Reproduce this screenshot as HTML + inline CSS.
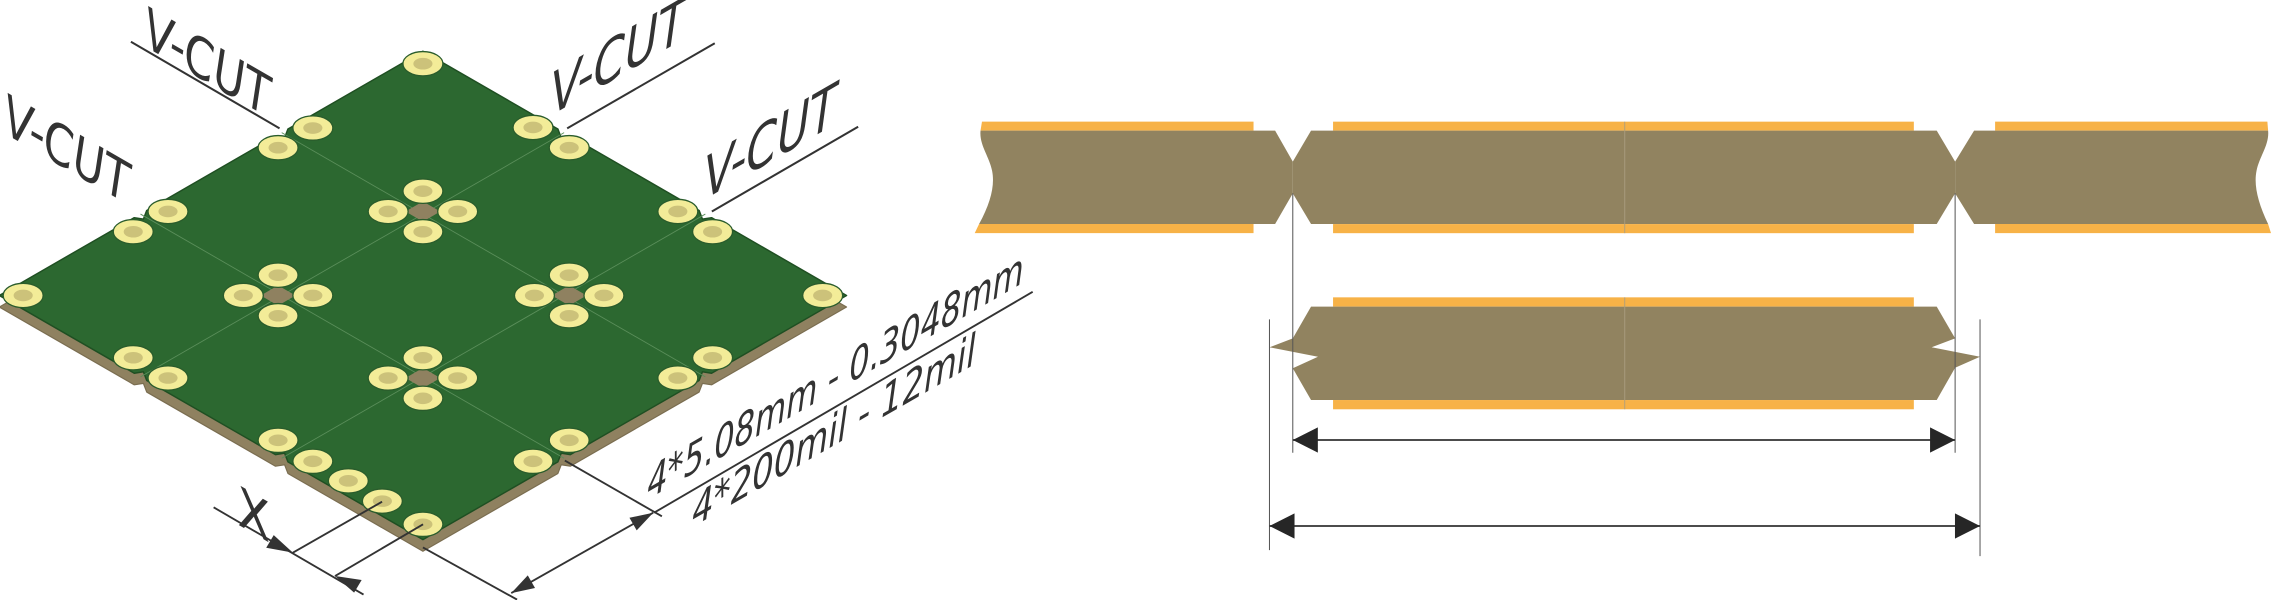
<!DOCTYPE html>
<html><head><meta charset="utf-8"><style>
html,body{margin:0;padding:0;background:#fff;}
svg{display:block;}
text{font-family:"DejaVu Sans","Liberation Sans",sans-serif;fill:#333;}
</style></head><body>
<svg width="2271" height="600" viewBox="0 0 1568 414.27" preserveAspectRatio="none" xmlns="http://www.w3.org/2000/svg">
<polygon transform="translate(0,8)" fill="#8f8160" stroke="#7a6d50" stroke-width="0.8" stroke-linejoin="round" points="292,35.4 385.2,89.1 387.5,95.1 393.8,94.1 482.7,145.3 485,151.3 491.3,150.3 584.5,204 491.3,257.7 485,256.7 482.7,262.7 393.8,313.9 387.5,312.9 385.2,318.9 292,372.6 198.8,318.9 196.5,312.9 190.2,313.9 101.3,262.7 99,256.7 92.7,257.7 -0.5,204 92.7,150.3 99,151.3 101.3,145.3 190.2,94.1 196.5,95.1 198.8,89.1"/>
<polygon fill="#2c6830" stroke="#1f4f22" stroke-width="1" stroke-linejoin="round" points="292,35.4 385.2,89.1 387.5,95.1 393.8,94.1 482.7,145.3 485,151.3 491.3,150.3 584.5,204 491.3,257.7 485,256.7 482.7,262.7 393.8,313.9 387.5,312.9 385.2,318.9 292,372.6 198.8,318.9 196.5,312.9 190.2,313.9 101.3,262.7 99,256.7 92.7,257.7 -0.5,204 92.7,150.3 99,151.3 101.3,145.3 190.2,94.1 196.5,95.1 198.8,89.1"/>
<g stroke="#5a8e5a" stroke-width="0.6">
<line x1="194.5" y1="91.6" x2="487" y2="260.2"/>
<line x1="97" y1="147.8" x2="389.5" y2="316.4"/>
<line x1="97" y1="260.2" x2="389.5" y2="91.6"/>
<line x1="194.5" y1="316.4" x2="487" y2="147.8"/>
</g>
<g fill="#8f8160">
<polygon points="280,146 292,139 304,146 292,153"/>
<polygon points="180,204 192,197 204,204 192,211"/>
<polygon points="381,204 393,197 405,204 393,211"/>
<polygon points="280,261 292,254 304,261 292,268"/>
</g>
<defs>
<g id="pad"><ellipse rx="13.8" ry="8.4" fill="#f3ec98" stroke="#2a5c2c" stroke-width="0.9"/><ellipse rx="6.6" ry="4" fill="#ccc27a"/></g>
</defs>
<g>
<use href="#pad" x="292" y="44"/>
<use href="#pad" x="216" y="88.4"/><use href="#pad" x="192" y="102"/>
<use href="#pad" x="368" y="88"/><use href="#pad" x="393" y="102"/>
<use href="#pad" x="116" y="146"/><use href="#pad" x="92" y="160"/>
<use href="#pad" x="468" y="146"/><use href="#pad" x="492" y="160"/>
<use href="#pad" x="16" y="204"/><use href="#pad" x="568" y="204"/>
<use href="#pad" x="292" y="132"/><use href="#pad" x="268" y="146"/><use href="#pad" x="316" y="146"/><use href="#pad" x="292" y="160"/>
<use href="#pad" x="192" y="190"/><use href="#pad" x="168" y="204"/><use href="#pad" x="216" y="204"/><use href="#pad" x="192" y="218"/>
<use href="#pad" x="393" y="190"/><use href="#pad" x="369" y="204"/><use href="#pad" x="417" y="204"/><use href="#pad" x="393" y="218"/>
<use href="#pad" x="292" y="247"/><use href="#pad" x="268" y="261"/><use href="#pad" x="316" y="261"/><use href="#pad" x="292" y="275"/>
<use href="#pad" x="92" y="247"/><use href="#pad" x="116" y="261"/>
<use href="#pad" x="492" y="247"/><use href="#pad" x="468" y="261"/>
<use href="#pad" x="192" y="304"/><use href="#pad" x="216" y="318.5"/><use href="#pad" x="240.5" y="332"/><use href="#pad" x="264" y="346"/><use href="#pad" x="292" y="362"/>
<use href="#pad" x="393" y="304"/><use href="#pad" x="368" y="318.5"/>
</g>
<g stroke="#333" stroke-width="1.4">
<line x1="90.4" y1="28.8" x2="193" y2="88.6"/>
<line x1="391.6" y1="88.6" x2="493.5" y2="29.9"/>
<line x1="491.5" y1="146" x2="592.5" y2="87.5"/>
</g>
<g font-size="40" font-style="italic" font-weight="200">
<text transform="matrix(0.866,0.5,0,1,100,32)" textLength="100" lengthAdjust="spacingAndGlyphs">V-CUT</text>
<text transform="matrix(0.866,0.5,0,1,3,92)" textLength="100" lengthAdjust="spacingAndGlyphs">V-CUT</text>
<text transform="matrix(0.866,-0.5,0,1,380,80)" textLength="108" lengthAdjust="spacingAndGlyphs">V-CUT</text>
<text transform="matrix(0.866,-0.5,0,1,486,138)" textLength="106" lengthAdjust="spacingAndGlyphs">V-CUT</text>
</g>
<g stroke="#333" stroke-width="1.3" fill="none">
<line x1="390" y1="318" x2="457" y2="356.5"/>
<line x1="292" y1="378" x2="357" y2="414"/>
<line x1="353" y1="409.5" x2="451" y2="354"/>
<line x1="451.6" y1="354" x2="713" y2="201.5"/>
<line x1="147.5" y1="350.3" x2="251" y2="410.5"/>
<line x1="263.8" y1="346.4" x2="202.2" y2="381.6"/>
<line x1="292.1" y1="362" x2="231.3" y2="397.7"/>
</g>
<g fill="#333">
<polygon points="451,354 439.6,366.2 434.6,357.5"/>
<polygon points="353,409.5 369.4,406 364.4,397.3"/>
<polygon points="202.2,381.6 189,369.5 183.8,378.2"/>
<polygon points="231.3,397.7 249.7,400.5 244.5,409.2"/>
</g>
<g font-size="30" font-style="italic" font-weight="200">
<text transform="matrix(0.866,-0.5,0,1,447,345)" textLength="300" lengthAdjust="spacingAndGlyphs">4*5.08mm - 0.3048mm</text>
<text transform="matrix(0.866,-0.5,0,1,478,364)" textLength="226" lengthAdjust="spacingAndGlyphs">4*200mil - 12mil</text>
</g>
<text transform="matrix(0.866,0.5,0,1,164,362)" font-size="38" font-weight="normal" textLength="26" lengthAdjust="spacingAndGlyphs">X</text>
<g fill="#f7b247">
<path d="M678,84 L865.5,84 L865.5,90.2 L677,90.2 Z"/>
<path d="M676,154.7 L865.5,154.7 L865.5,161 L673,161 Z"/>
<rect x="920.4" y="84" width="401" height="6.2"/>
<rect x="920.4" y="154.7" width="401" height="6.3"/>
<path d="M1377.5,84 L1565.5,84 L1566,90.2 L1377.5,90.2 Z"/>
<path d="M1377.5,154.7 L1566,154.7 L1568,161 L1377.5,161 Z"/>
<rect x="920.4" y="205.3" width="401" height="6.4"/>
<rect x="920.4" y="276.2" width="401" height="6.4"/>
</g>
<g fill="#918360">
<path d="M677,90.2 L880.4,90.2 L892.6,111.6 L892.6,133.5 L880.4,154.7 L676,154.7 C684,140 687,128 685,118 C683,108 676,100 677,90.2 Z"/>
<path d="M905.2,90.2 L1337.2,90.2 L1349.9,111.6 L1349.9,133.5 L1337.2,154.7 L905.2,154.7 L892.6,133.5 L892.6,111.6 Z"/>
<path d="M1363,90.2 L1566,90.2 C1567,100 1560,108 1558,118 C1556,128 1559,140 1566,154.7 L1363,154.7 L1349.9,133.5 L1349.9,111.6 Z"/>
<path d="M905.2,211.7 L1337.2,211.7 L1349.9,233.6 L1333.7,239.8 L1367.1,246.3 L1349.9,253.9 L1337.2,276.2 L905.2,276.2 L892.6,254.3 L910,246.3 L876.5,239.8 L892.6,233.6 Z"/>
</g>
<g stroke="#aa9e80" stroke-width="0.6">
<line x1="1121.8" y1="84" x2="1121.8" y2="161"/>
<line x1="1121.8" y1="205.3" x2="1121.8" y2="282.6"/>
</g>
<g stroke="#555" stroke-width="0.7">
<line x1="892.6" y1="133.5" x2="892.6" y2="312.6"/>
<line x1="1349.9" y1="133.5" x2="1349.9" y2="312.6"/>
<line x1="876.5" y1="220.5" x2="876.5" y2="379.8"/>
<line x1="1367.1" y1="220.5" x2="1367.1" y2="384"/>
</g>
<g stroke="#333" stroke-width="1.2">
<line x1="892.6" y1="303.8" x2="1349.9" y2="303.8"/>
<line x1="876.5" y1="363.2" x2="1367.1" y2="363.2"/>
</g>
<g fill="#262626">
<polygon points="892.6,303.8 909.9,295.1 909.9,312.5"/>
<polygon points="1349.9,303.8 1332.6,295.1 1332.6,312.5"/>
<polygon points="876.5,363.2 893.8,354.5 893.8,371.9"/>
<polygon points="1367.1,363.2 1349.8,354.5 1349.8,371.9"/>
</g>
</svg>
</body></html>
